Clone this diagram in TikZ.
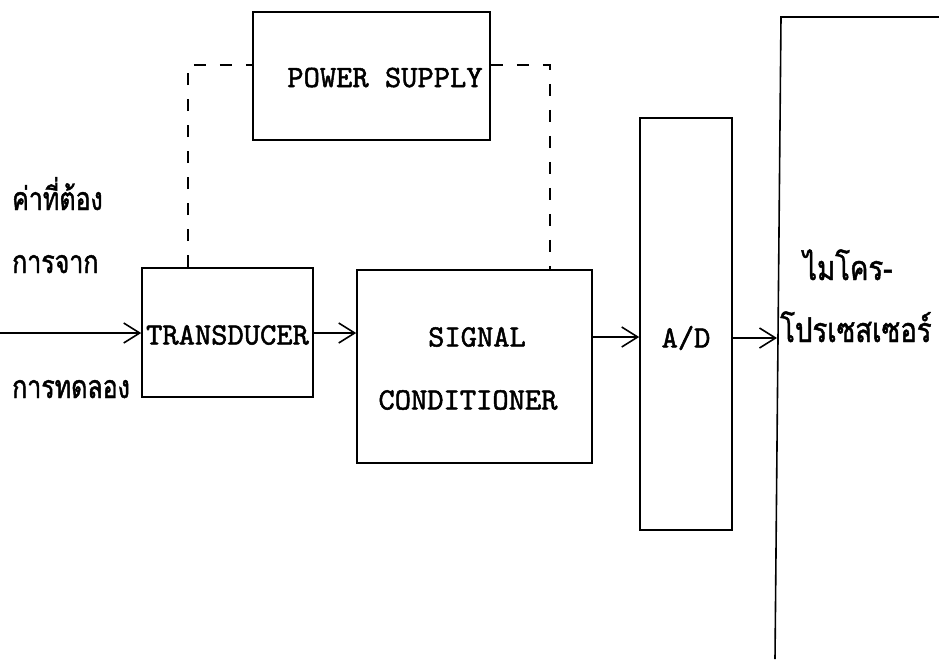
\documentclass[tikz,border=0pt]{standalone}
\usepackage{fontspec}
\newfontfamily\thaifont[Script=Thai, FakeBold=1.4, FakeStretch=0.78]{Loma}
\newfontfamily\thaiwide[Script=Thai, FakeBold=1.4, FakeStretch=0.81]{Loma}
\newfontfamily\monof{lmmono10-regular.otf}[FakeBold=1.6]
\usetikzlibrary{arrows.meta}
\tikzset{
  box/.style={draw, line width=1.6pt, inner sep=0pt},
  lbl/.style={font=\monof\fontsize{31}{36}\selectfont, inner sep=0pt},
  thai/.style={font=\thaifont\fontsize{32}{36}\selectfont, inner sep=0pt, anchor=base west},
  thaibig/.style={thai, font=\thaiwide\fontsize{34}{38}\selectfont},
  conn/.style={line width=1.6pt, -{Straight Barb[length=16pt,width=20pt,line width=1.6pt]}},
  dsh/.style={line width=1.6pt, dash pattern=on 12pt off 14pt}
}
\begin{document}
\begin{tikzpicture}[x=1pt,y=-1pt]
\useasboundingbox (0,0) rectangle (939,659);
% boxes
\node[box, minimum width=237pt, minimum height=128pt] (ps) at (371.5,76) {};
\node[lbl, anchor=base] (pst) at (385,87) {POWER SUPPLY};
\node[box, minimum width=171pt, minimum height=129pt] (td) at (227.5,332.5) {};
\node[lbl] (tdt) at (227.5,335) {TRANSDUCER};
\node[box, minimum width=235pt, minimum height=193pt] (sc) at (474.5,366.5) {};
\node[lbl] (sc1) at (477,337) {SIGNAL};
\node[lbl] (sc2) at (468,400) {CONDITIONER};
\node[box, minimum width=92pt, minimum height=412pt] (ad) at (686,324) {};
\node[lbl] (adt) at (686,338) {A/D};
% microprocessor (open box)
\coordinate (mtop) at (781,17);
\coordinate (mbot) at (775,659);
\coordinate (mright) at (939,17);
\coordinate (marr) at (777,338);
\draw[line width=1.6pt] (mright) -- (mtop) -- (mbot);
\node[thaibig] (m1) at (803,280) {ไมโคร-};
\node[thaibig] (m2) at (780,342) {โปรเซสเซอร์};
% left labels
\node[thai] (l1) at (12,210) {ค่าที่ต้อง};
\node[thai] (l2) at (12,273) {การจาก};
\node[thai] (l3) at (12,398) {การทดลอง};
% dashed power lines
\draw[dsh] (td.north -| 188,0) -- (188,65) -- (ps.west |- 0,65);
\draw[dsh] (ps.east |- 0,65) -- (550,65) -- (sc.north -| 550,0);
% signal arrows
\coordinate (in) at (0,333);
\draw[conn] (in) -- (td.west |- in);
\draw[conn] (td.east |- 0,333) -- (sc.west |- 0,333);
\draw[conn] (sc.east |- 0,337) -- (ad.west |- 0,337);
\draw[conn] (ad.east |- 0,338) -- (marr);
\end{tikzpicture}
\end{document}
